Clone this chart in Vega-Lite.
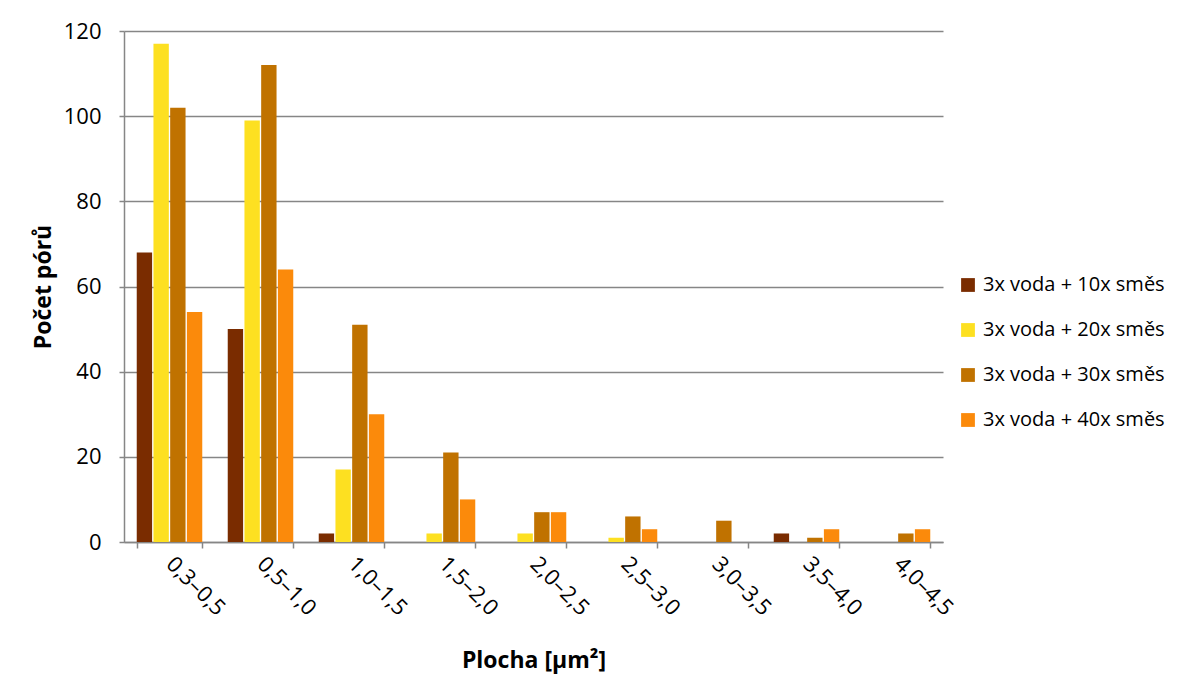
{
  "$schema": "https://vega.github.io/schema/vega-lite/v6.json",
  "width": 819,
  "height": 511,
  "autosize": {"type": "none"},
  "padding": {"left": 124, "top": 31, "right": 236, "bottom": 144},
  "background": "white",
  "config": {
    "font": "Open Sans",
    "view": {"stroke": null},
    "axis": {
      "labelFont": "Open Sans",
      "titleFont": "Open Sans",
      "labelColor": "black",
      "titleColor": "black",
      "domainColor": "#868686",
      "tickColor": "#868686",
      "gridColor": "#868686",
      "domainWidth": 1.5,
      "tickWidth": 1.5,
      "gridWidth": 1.5
    }
  },
  "data": {
    "values": [
      {"plocha": "0,3–0,5", "serie": "3x voda + 10x směs", "pocet": 68},
      {"plocha": "0,3–0,5", "serie": "3x voda + 20x směs", "pocet": 117},
      {"plocha": "0,3–0,5", "serie": "3x voda + 30x směs", "pocet": 102},
      {"plocha": "0,3–0,5", "serie": "3x voda + 40x směs", "pocet": 54},
      {"plocha": "0,5–1,0", "serie": "3x voda + 10x směs", "pocet": 50},
      {"plocha": "0,5–1,0", "serie": "3x voda + 20x směs", "pocet": 99},
      {"plocha": "0,5–1,0", "serie": "3x voda + 30x směs", "pocet": 112},
      {"plocha": "0,5–1,0", "serie": "3x voda + 40x směs", "pocet": 64},
      {"plocha": "1,0–1,5", "serie": "3x voda + 10x směs", "pocet": 2},
      {"plocha": "1,0–1,5", "serie": "3x voda + 20x směs", "pocet": 17},
      {"plocha": "1,0–1,5", "serie": "3x voda + 30x směs", "pocet": 51},
      {"plocha": "1,0–1,5", "serie": "3x voda + 40x směs", "pocet": 30},
      {"plocha": "1,5–2,0", "serie": "3x voda + 10x směs", "pocet": 0},
      {"plocha": "1,5–2,0", "serie": "3x voda + 20x směs", "pocet": 2},
      {"plocha": "1,5–2,0", "serie": "3x voda + 30x směs", "pocet": 21},
      {"plocha": "1,5–2,0", "serie": "3x voda + 40x směs", "pocet": 10},
      {"plocha": "2,0–2,5", "serie": "3x voda + 10x směs", "pocet": 0},
      {"plocha": "2,0–2,5", "serie": "3x voda + 20x směs", "pocet": 2},
      {"plocha": "2,0–2,5", "serie": "3x voda + 30x směs", "pocet": 7},
      {"plocha": "2,0–2,5", "serie": "3x voda + 40x směs", "pocet": 7},
      {"plocha": "2,5–3,0", "serie": "3x voda + 10x směs", "pocet": 0},
      {"plocha": "2,5–3,0", "serie": "3x voda + 20x směs", "pocet": 1},
      {"plocha": "2,5–3,0", "serie": "3x voda + 30x směs", "pocet": 6},
      {"plocha": "2,5–3,0", "serie": "3x voda + 40x směs", "pocet": 3},
      {"plocha": "3,0–3,5", "serie": "3x voda + 10x směs", "pocet": 0},
      {"plocha": "3,0–3,5", "serie": "3x voda + 20x směs", "pocet": 0},
      {"plocha": "3,0–3,5", "serie": "3x voda + 30x směs", "pocet": 5},
      {"plocha": "3,0–3,5", "serie": "3x voda + 40x směs", "pocet": 0},
      {"plocha": "3,5–4,0", "serie": "3x voda + 10x směs", "pocet": 2},
      {"plocha": "3,5–4,0", "serie": "3x voda + 20x směs", "pocet": 0},
      {"plocha": "3,5–4,0", "serie": "3x voda + 30x směs", "pocet": 1},
      {"plocha": "3,5–4,0", "serie": "3x voda + 40x směs", "pocet": 3},
      {"plocha": "4,0–4,5", "serie": "3x voda + 10x směs", "pocet": 0},
      {"plocha": "4,0–4,5", "serie": "3x voda + 20x směs", "pocet": 0},
      {"plocha": "4,0–4,5", "serie": "3x voda + 30x směs", "pocet": 2},
      {"plocha": "4,0–4,5", "serie": "3x voda + 40x směs", "pocet": 3}
    ]
  },
  "mark": {"type": "bar"},
  "encoding": {
    "x": {
      "field": "plocha",
      "type": "nominal",
      "sort": null,
      "scale": {"paddingInner": 0.28, "paddingOuter": 0.14},
      "axis": {
        "title": "Plocha [µm²]",
        "titleFontSize": 23,
        "titleFontWeight": "bold",
        "titlePadding": 30,
        "labelAngle": 45,
        "labelAlign": "left",
        "labelBaseline": "middle",
        "labelFontSize": 22,
        "labelPadding": 12,
        "tickBand": "extent",
        "tickSize": 6,
        "grid": false
      }
    },
    "xOffset": {
      "field": "serie",
      "type": "nominal",
      "scale": {"paddingInner": 0.08}
    },
    "y": {
      "field": "pocet",
      "type": "quantitative",
      "scale": {"domain": [0, 120], "nice": false},
      "axis": {
        "title": "Počet pórů",
        "titleFontSize": 23,
        "titleFontWeight": "bold",
        "titlePadding": 8,
        "values": [0, 20, 40, 60, 80, 100, 120],
        "labelFontSize": 22,
        "labelPadding": 18,
        "tickSize": 5,
        "grid": true
      }
    },
    "color": {
      "field": "serie",
      "type": "nominal",
      "scale": {
        "domain": ["3x voda + 10x směs", "3x voda + 20x směs", "3x voda + 30x směs", "3x voda + 40x směs"],
        "range": ["#7A2C00", "#FDE021", "#C07200", "#FB8A0B"]
      },
      "legend": {
        "title": null,
        "orient": "none",
        "legendX": 834,
        "legendY": 244,
        "symbolType": "square",
        "symbolSize": 190,
        "symbolStrokeWidth": 0,
        "labelFont": "Open Sans",
        "labelFontSize": 20,
        "labelLimit": 300,
        "labelColor": "black",
        "rowPadding": 25,
        "labelOffset": 5
      }
    }
  }
}
